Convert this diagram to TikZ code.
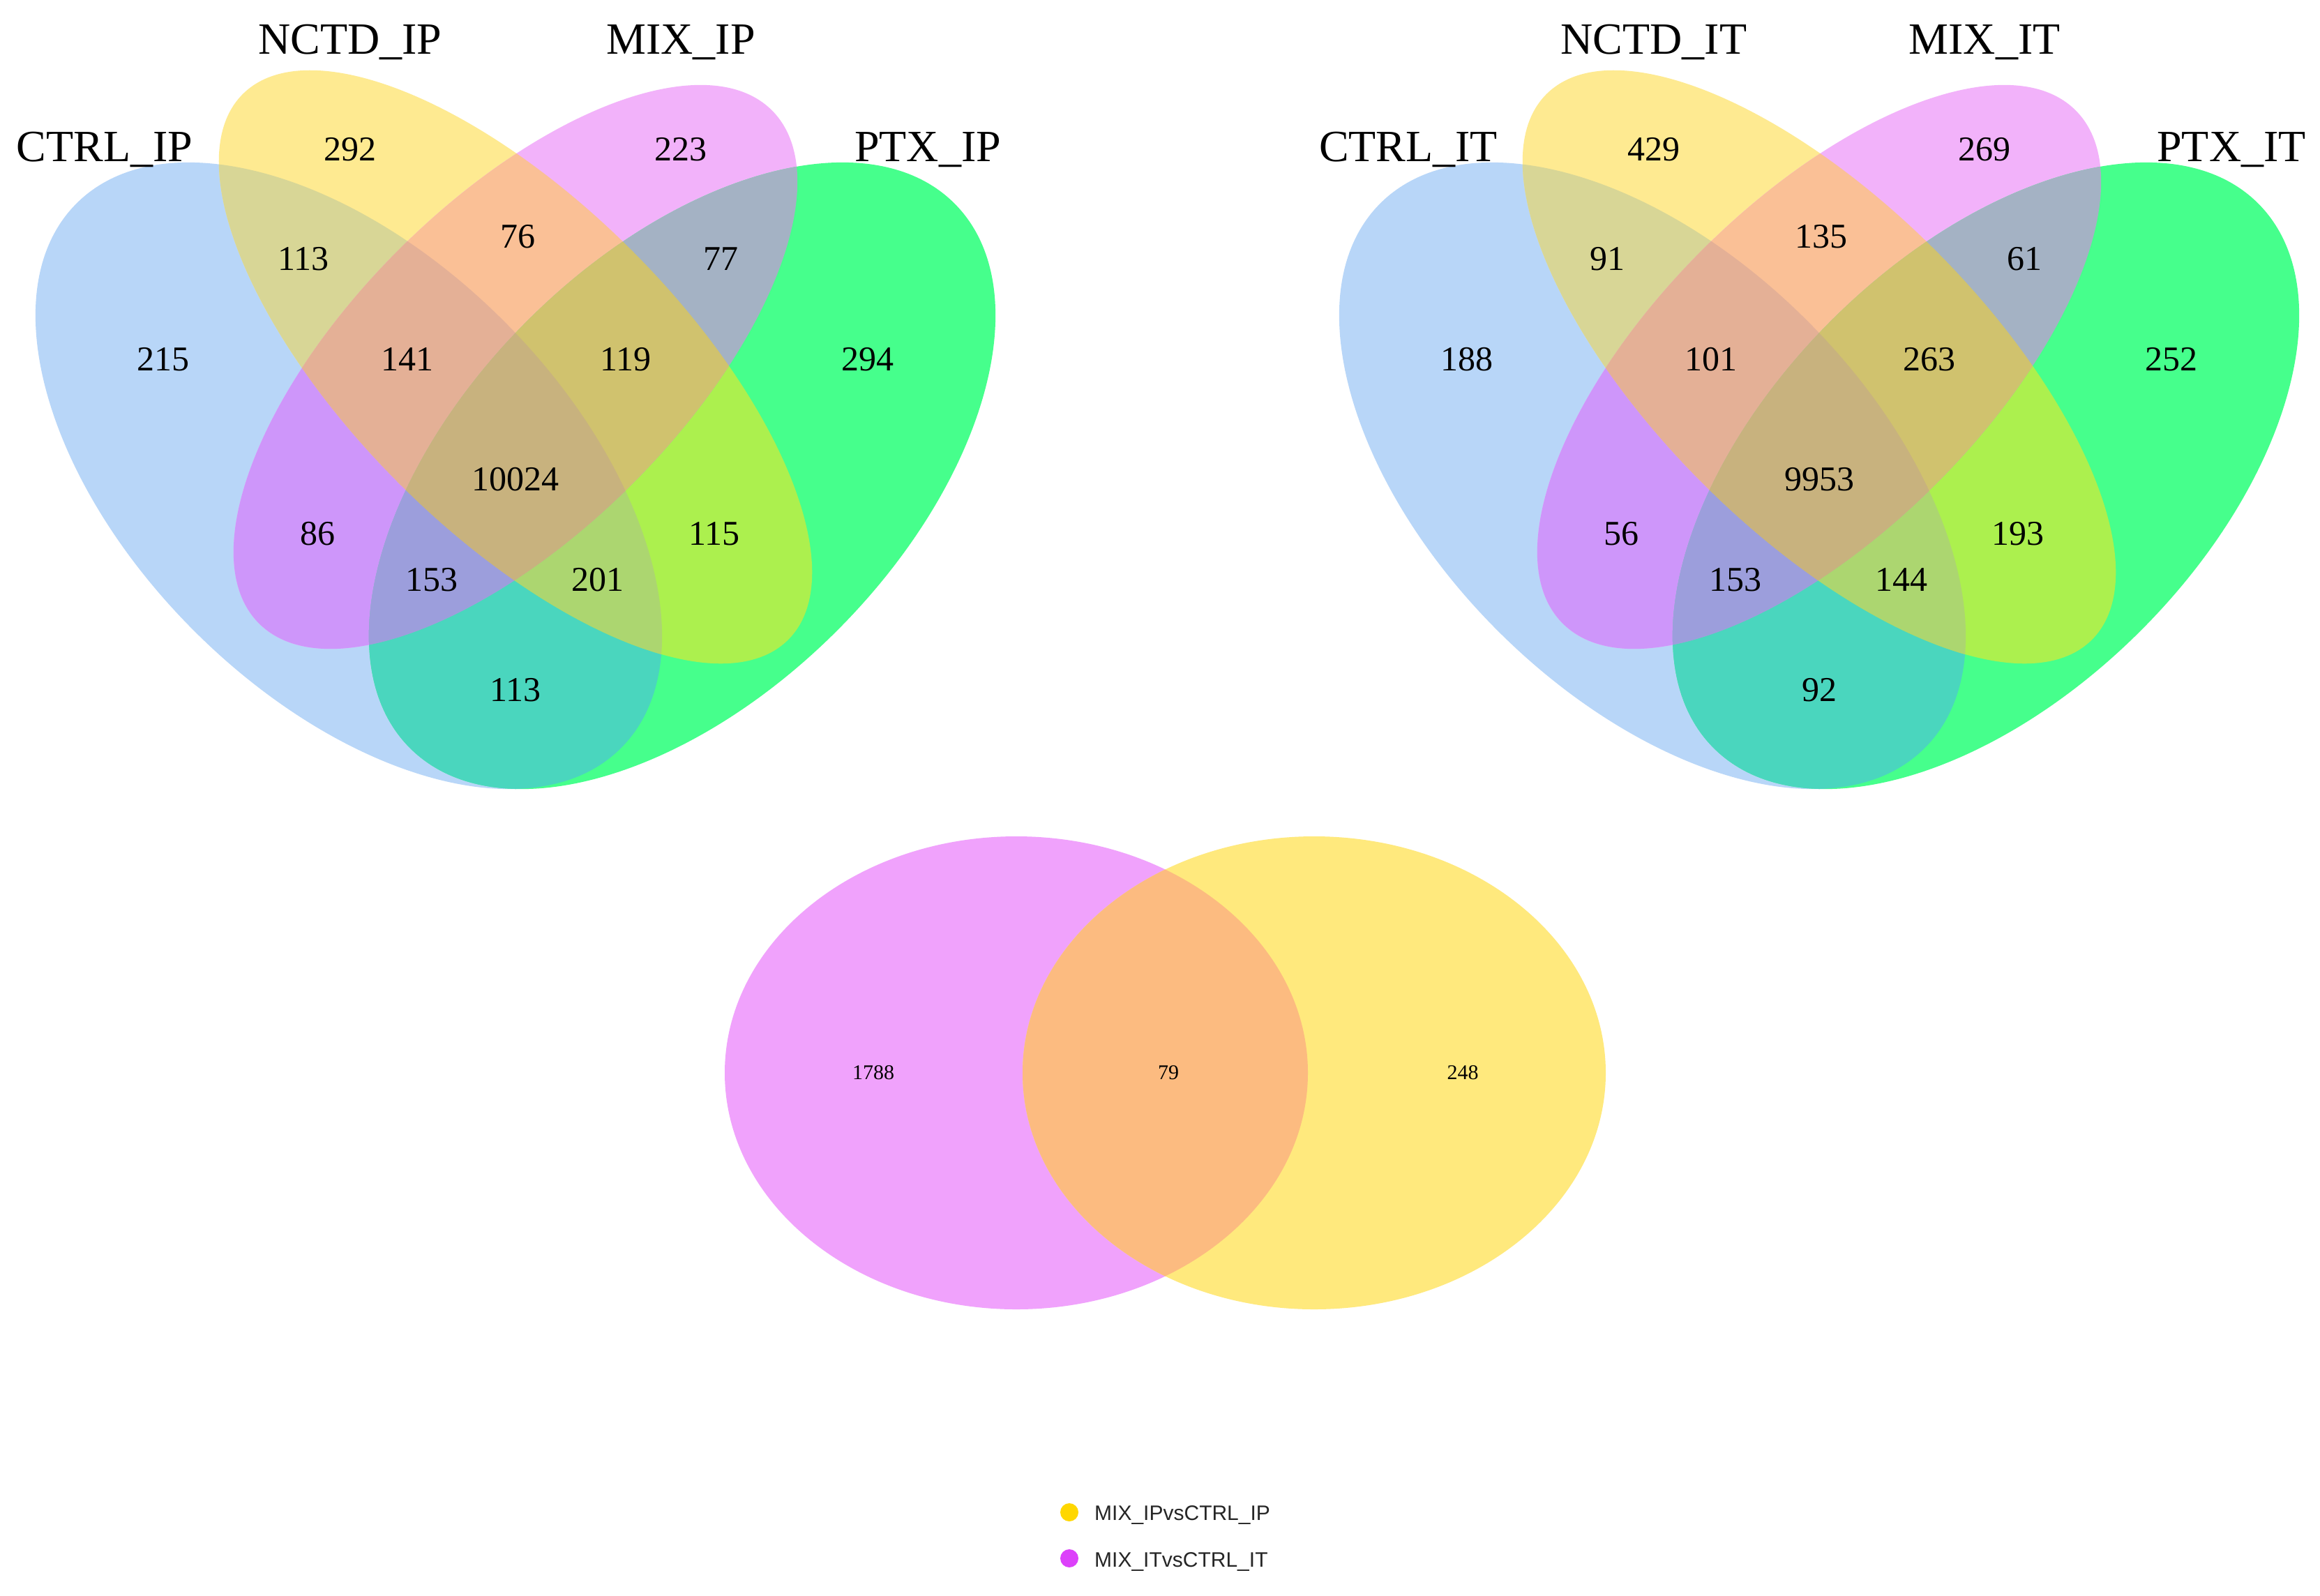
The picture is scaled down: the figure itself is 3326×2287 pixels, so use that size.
\documentclass[tikz,border=0pt]{standalone}
\usepackage{fontspec}
\setmainfont{Liberation Serif}
\newfontfamily\legfont{Liberation Sans}
\definecolor{cC}{HTML}{B8D6F8}
\definecolor{cN}{HTML}{FEEA91}
\definecolor{cM}{HTML}{F2B2FA}
\definecolor{cP}{HTML}{46FF8C}
\definecolor{cCN}{HTML}{D8D696}
\definecolor{cNM}{HTML}{FAC096}
\definecolor{cMP}{HTML}{A4B2C4}
\definecolor{cCM}{HTML}{CE96FA}
\definecolor{cNP}{HTML}{ACF04E}
\definecolor{cCP}{HTML}{4AD6BE}
\definecolor{cCNM}{HTML}{E4B096}
\definecolor{cNMP}{HTML}{D0C26E}
\definecolor{cCMP}{HTML}{9C9EDC}
\definecolor{cCNP}{HTML}{ACD670}
\definecolor{cCNMP}{HTML}{C8B27E}
\definecolor{bPink}{HTML}{F0A2FC}
\definecolor{bYel}{HTML}{FFE97D}
\definecolor{bOver}{HTML}{FCBB80}
\definecolor{dotYel}{HTML}{FFD700}
\definecolor{dotPink}{HTML}{DC40FA}
\newcommand\VC{(500,682) ellipse [x radius=552pt, y radius=314pt]}
\newcommand\VN{(739,526) ellipse [x radius=553pt, y radius=236pt]}
\newcommand\VM{(739,526) ellipse [x radius=520pt, y radius=237pt]}
\newcommand\VP{(978,682) ellipse [x radius=552pt, y radius=314pt]}
\newcommand\BL{(1457,1538) ellipse [x radius=418pt, y radius=339pt]}
\newcommand\BR{(1884,1538) ellipse [x radius=418pt, y radius=339pt]}
\tikzset{
  rC/.style={rotate around={-45:(500,682)}},
  rN/.style={rotate around={-45:(739,526)}},
  rM/.style={rotate around={45:(739,526)}},
  rP/.style={rotate around={45:(978,682)}},
  num/.style={font=\fontsize{50}{60}\selectfont, inner sep=0pt},
  cat/.style={font=\fontsize{64}{72}\selectfont, inner sep=0pt, anchor=base},
  smallnum/.style={font=\fontsize{30}{36}\selectfont, inner sep=0pt},
  leg/.style={font=\legfont\fontsize{30}{36}\selectfont, inner sep=0pt, anchor=base west, text=black!85},
}
\newcommand\vennshapes{%
  \fill[cC,rC] \VC;
  \fill[cN,rN] \VN;
  \fill[cM,rM] \VM;
  \fill[cP,rP] \VP;
  \begin{scope}\clip[rC] \VC; \fill[cCN,rN] \VN; \end{scope}
  \begin{scope}\clip[rC] \VC; \fill[cCM,rM] \VM; \end{scope}
  \begin{scope}\clip[rC] \VC; \fill[cCP,rP] \VP; \end{scope}
  \begin{scope}\clip[rN] \VN; \fill[cNM,rM] \VM; \end{scope}
  \begin{scope}\clip[rN] \VN; \fill[cNP,rP] \VP; \end{scope}
  \begin{scope}\clip[rM] \VM; \fill[cMP,rP] \VP; \end{scope}
  \begin{scope}\clip[rC] \VC; \clip[rN] \VN; \fill[cCNM,rM] \VM; \end{scope}
  \begin{scope}\clip[rC] \VC; \clip[rN] \VN; \fill[cCNP,rP] \VP; \end{scope}
  \begin{scope}\clip[rC] \VC; \clip[rM] \VM; \fill[cCMP,rP] \VP; \end{scope}
  \begin{scope}\clip[rN] \VN; \clip[rM] \VM; \fill[cNMP,rP] \VP; \end{scope}
  \begin{scope}\clip[rC] \VC; \clip[rN] \VN; \clip[rM] \VM; \fill[cCNMP,rP] \VP; \end{scope}
}
\begin{document}
\begin{tikzpicture}[x=1pt,y=-1pt]
\fill[white] (0,0) rectangle (3326,2287);
\useasboundingbox (0,0) rectangle (3326,2287);
% ---------- left Venn (IP)
\begin{scope}
  \vennshapes
  \node[cat] (catCIP) at (150,231) {CTRL\_IP};
  \node[cat] (catNIP) at (502,77) {NCTD\_IP};
  \node[cat] (catMIP) at (976,77) {MIX\_IP};
  \node[cat] (catPIP) at (1330,231) {PTX\_IP};
  \node[num] (ipN) at (502,214) {292};
  \node[num] (ipM) at (976,214) {223};
  \node[num] (ipCN) at (435,371) {113};
  \node[num] (ipNM) at (742,339) {76};
  \node[num] (ipMP) at (1033,371) {77};
  \node[num] (ipC) at (234,515) {215};
  \node[num] (ipCNM) at (584,515) {141};
  \node[num] (ipNMP) at (897,515) {119};
  \node[num] (ipP) at (1244,515) {294};
  \node[num] (ipAll) at (739,687) {10024};
  \node[num] (ipCM) at (455,765) {86};
  \node[num] (ipNP) at (1024,765) {115};
  \node[num] (ipCMP) at (619,831) {153};
  \node[num] (ipCNP) at (857,831) {201};
  \node[num] (ipCP) at (739,989) {113};
\end{scope}
% ---------- right Venn (IT)
\begin{scope}[xshift=1869pt]
  \vennshapes
  \node[cat] (catCIT) at (150,231) {CTRL\_IT};
  \node[cat] (catNIT) at (502,77) {NCTD\_IT};
  \node[cat] (catMIT) at (976,77) {MIX\_IT};
  \node[cat] (catPIT) at (1330,231) {PTX\_IT};
  \node[num] (itN) at (502,214) {429};
  \node[num] (itM) at (976,214) {269};
  \node[num] (itCN) at (435,371) {91};
  \node[num] (itNM) at (742,339) {135};
  \node[num] (itMP) at (1033,371) {61};
  \node[num] (itC) at (234,515) {188};
  \node[num] (itCNM) at (584,515) {101};
  \node[num] (itNMP) at (897,515) {263};
  \node[num] (itP) at (1244,515) {252};
  \node[num] (itAll) at (739,687) {9953};
  \node[num] (itCM) at (455,765) {56};
  \node[num] (itNP) at (1024,765) {193};
  \node[num] (itCMP) at (619,831) {153};
  \node[num] (itCNP) at (857,831) {144};
  \node[num] (itCP) at (739,989) {92};
\end{scope}
% ---------- bottom Venn
\fill[bPink] \BL;
\fill[bYel] \BR;
\begin{scope}\clip \BL; \fill[bOver] \BR; \end{scope}
\node[smallnum] (bL) at (1252,1538) {1788};
\node[smallnum] (bM) at (1675,1538) {79};
\node[smallnum] (bR) at (2097,1538) {248};
% ---------- legend
\fill[dotYel] (1533,2168) circle [radius=13pt];
\fill[dotPink] (1533,2234) circle [radius=13pt];
\node[leg] (legIP) at (1569,2179) {MIX\_IPvsCTRL\_IP};
\node[leg] (legIT) at (1569,2246) {MIX\_ITvsCTRL\_IT};
\end{tikzpicture}
\end{document}
